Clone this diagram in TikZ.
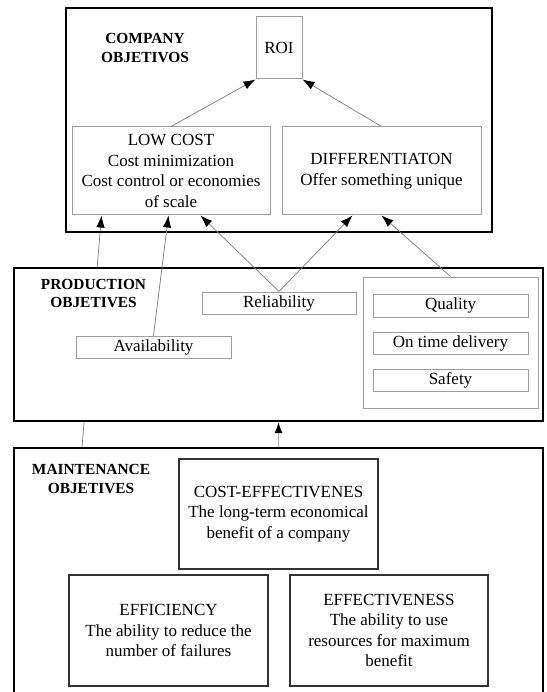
\documentclass[tikz,border=0pt]{standalone}
\usepackage{fontspec}
\setmainfont{Liberation Serif}
\usetikzlibrary{arrows.meta,backgrounds}

\newcommand\dgbody{\fontsize{17}{20.5}\selectfont}
\newcommand\dghead{\fontsize{15.4}{18.5}\selectfont\bfseries}

\tikzset{
  outerbox/.style={draw=black, line width=2pt, inner sep=0pt},
  lightbox/.style={draw=black!38, line width=1pt, inner sep=0pt,
                   align=center, font=\dgbody},
  darkbox/.style={draw=black!80, line width=1.1pt, inner sep=0pt,
                  align=center, font=\dgbody},
  heading/.style={inner sep=0pt, align=center, font=\dghead},
  conn/.style={draw=black!52, line width=0.7pt,
               -{Latex[length=12pt,width=8.5pt,color=black]}},
  thickconn/.style={draw=black!30, line width=1.6pt,
               -{Latex[length=11pt,width=8pt,color=black]}},
}

\begin{document}
\begin{tikzpicture}[x=1pt,y=-1pt]
  \path[use as bounding box] (0,0) rectangle (546,692);
  \clip (0,0) rectangle (546,692);

  % company level
  \node[outerbox, minimum width=426pt, minimum height=224pt] (company) at (279,120) {};
  \node[heading] (companytitle) at (145,48) {COMPANY\\OBJETIVOS};
  \node[lightbox, minimum width=46pt, minimum height=62pt] (roi) at (279,48) {ROI};
  \node[lightbox, minimum width=198pt, minimum height=88pt] (lowcost) at (171,171)
    {LOW COST\\Cost minimization\\Cost control or economies\\of scale};
  \node[lightbox, minimum width=199pt, minimum height=88pt] (diff) at (381.5,171)
    {DIFFERENTIATON\\Offer something unique};

  % production level
  \node[outerbox, fill=white, minimum width=529pt, minimum height=153pt] (prod) at (278.5,344.5) {};
  \node[heading] (prodtitle) at (93.5,293.5) {PRODUCTION\\OBJETIVES};
  \node[lightbox, minimum width=154pt, minimum height=22pt] (reliab) at (279,303) {Reliability};
  \node[lightbox, minimum width=155pt, minimum height=22pt] (avail) at (153.5,347) {Availability};
  \node[lightbox, minimum width=175pt, minimum height=131pt] (group) at (450.5,342.5) {};
  \node[lightbox, minimum width=155pt, minimum height=23pt] (quality) at (450.5,305.5) {Quality};
  \node[lightbox, minimum width=155pt, minimum height=22pt] (ontime) at (450.5,343) {On time delivery};
  \node[lightbox, minimum width=155pt, minimum height=22pt] (safety) at (450.5,380) {Safety};

  % maintenance level
  \node[outerbox, minimum width=529pt, minimum height=272pt] (maint) at (278.5,584) {};
  \node[heading] (mainttitle) at (91,479) {MAINTENANCE\\OBJETIVES};
  \node[darkbox, minimum width=199pt, minimum height=110pt] (costeff) at (278.5,514)
    {COST-EFFECTIVENES\\The long-term economical\\benefit of a company};
  \node[darkbox, minimum width=199pt, minimum height=111pt] (effic) at (168.5,630.5)
    {EFFICIENCY\\The ability to reduce the\\number of failures};
  \node[darkbox, minimum width=198pt, minimum height=111pt] (effect) at (389,630.5)
    {EFFECTIVENESS\\The ability to use\\resources for maximum\\benefit};

  % connectors
  \draw[conn] (lowcost.north) -- (roi.south west);
  \draw[conn] (diff.north) -- (roi.south east);
  \draw[conn] (avail.north) -- ([xshift=97pt]lowcost.south west);
  \draw[conn] (reliab.north) -- ([xshift=129pt]lowcost.south west);
  \draw[conn] (reliab.north) -- ([xshift=71pt]diff.south west);
  \draw[conn] (group.north) -- ([xshift=100pt]diff.south west);
  \draw[thickconn] (maint.north) -- (prod.south);

  % this link runs behind the production box
  \begin{pgfonlayer}{background}
    \draw[conn] ([xshift=69pt]maint.north west) -- ([xshift=30pt]lowcost.south west);
  \end{pgfonlayer}
\end{tikzpicture}
\end{document}
